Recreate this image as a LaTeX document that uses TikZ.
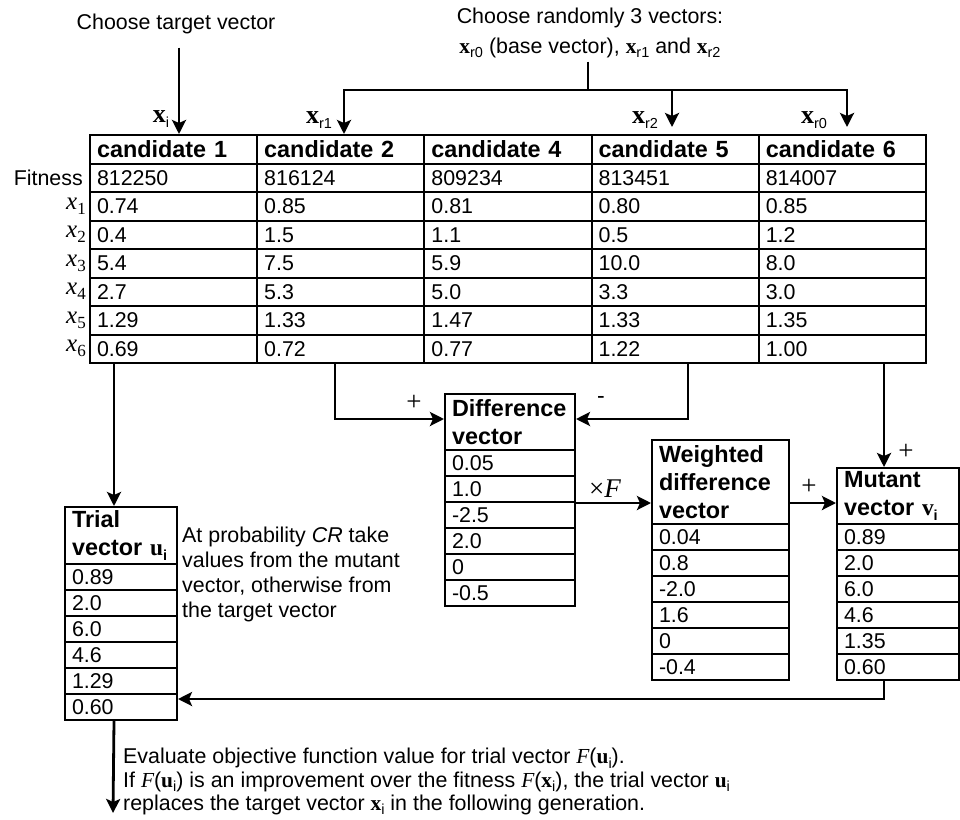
\documentclass[tikz,border=0pt]{standalone}
\usepackage{fontspec}
\setmainfont{Liberation Sans}
\newfontfamily\serif{Liberation Serif}
\usetikzlibrary{arrows.meta,calc}
\hyphenpenalty=10000
\exhyphenpenalty=10000

% bold serif vector letter and a small lowered index
\newcommand\bvec[1]{{\serif\bfseries #1}}
\newcommand\lowsub[1]{\raisebox{-0.2em}{\fontsize{14.5}{14.5}\selectfont #1}}
\newcommand\bodyfont{\fontsize{21.4}{25}\selectfont}
\newcommand\headfont{\fontsize{23.4}{28}\selectfont\bfseries}

\tikzset{
  every node/.style={font=\bodyfont},
  box/.style={draw, line width=2pt, anchor=north west, inner xsep=7pt, inner ysep=0pt, align=left},
  tcell/.style={box, text width=153.2pt, minimum height=28.5pt},
  hd/.style={font=\headfont},
  wire/.style={line width=2.8pt},
  arr/.style={wire, -{Stealth[length=14pt,width=14pt,inset=3pt]}},
  sym/.style={font=\fontsize{27}{27}\selectfont\serif, inner sep=1pt},
  xlab/.style={font=\fontsize{25}{25}\selectfont, anchor=east, inner sep=0pt},
  toplab/.style={font=\fontsize{26}{26}\selectfont},
}

\begin{document}
\begin{tikzpicture}[x=1pt,y=-1pt]
\fill[white] (0,0) rectangle (960,819);
\useasboundingbox (0,0) rectangle (960,819);

% population table
\foreach \hdr/\va/\vb/\vc/\vd/\ve/\vf/\vg [count=\i] in {
  candidate 1/812250/0.74/0.4/5.4/2.7/1.29/0.69,
  candidate 2/816124/0.85/1.5/7.5/5.3/1.33/0.72,
  candidate 4/809234/0.81/1.1/5.9/5.0/1.47/0.77,
  candidate 5/813451/0.80/0.5/10.0/3.3/1.33/1.22,
  candidate 6/814007/0.85/1.2/8.0/3.0/1.35/1.00}
{
  \pgfmathsetmacro\cx{89+167.2*(\i-1)}
  \node[tcell,hd] (h\i) at (\cx,134) {\hdr};
  \foreach \v [count=\k] in {\va,\vb,\vc,\vd,\ve,\vf,\vg}
    \node[tcell] (c\i-\k) at (\cx,{134+28.5*\k}) {\v};
}

% row labels
\node[xlab, font=\bodyfont] (lfit) at ([xshift=-6pt]c1-1.west) {Fitness};
\foreach \k in {1,...,6}{
  \pgfmathtruncatemacro\r{\k+1}
  \node[xlab] (lx\k) at ([xshift=-3pt]c1-\r.west)
    {{\serif\itshape x}\raisebox{-0.2em}{\fontsize{17}{17}\selectfont\serif\k}};
}

% choosing the vectors
\node (tv) at (176,24) {Choose target vector};
\node[align=center, font=\fontsize{21.4}{30}\selectfont] (rv) at (590,33)
  {Choose randomly 3 vectors:\\\bvec{x}\lowsub{r0} (base vector), \bvec{x}\lowsub{r1} and \bvec{x}\lowsub{r2}};

\coordinate (ti) at ([xshift=5.4pt]h1.north);
\draw[arr] ($(tv.south -| ti)+(0,10)$) -- (ti);

\coordinate (j) at (588,90);
\coordinate (r1t) at ([xshift=3.2pt]h2.north);
\coordinate (r2t) at ([xshift=-3.2pt,yshift=7pt]h4.north);
\coordinate (r0t) at ([xshift=4.6pt,yshift=7pt]h5.north);
\draw[wire] (rv.south -| j) -- (j);
\draw[arr] (j) -| (r1t);
\draw[arr] (j) -| (r2t);
\draw[arr] (j) -| (r0t);

\node[toplab] (lxi) at (161,119) {\bvec{x}\lowsub{i}};
\node[toplab] (lxr1) at (319,120) {\bvec{x}\lowsub{r1}};
\node[toplab] (lxr2) at (645,120) {\bvec{x}\lowsub{r2}};
\node[toplab] (lxr0) at (814,120) {\bvec{x}\lowsub{r0}};

% difference vector
\node[box, hd, text width=116pt, minimum height=56pt] (dh) at (444,393) {Difference\\vector};
\foreach \v [count=\k] in {0.05,1.0,-2.5,2.0,0,-0.5}
  \node[box, text width=116pt, minimum height=26pt] (d\k) at (444,{449+26*(\k-1)}) {\v};

% weighted difference vector
\node[box, hd, text width=123pt, minimum height=84pt] (wh) at (651,439) {Weighted\\difference\\vector};
\foreach \v [count=\k] in {0.04,0.8,-2.0,1.6,0,-0.4}
  \node[box, text width=123pt, minimum height=26pt] (w\k) at (651,{523+26*(\k-1)}) {\v};

% mutant vector
\node[box, hd, text width=108pt, minimum height=56pt] (mh) at (836,467) {Mutant\\vector \bvec{v}\lowsub{i}};
\foreach \v [count=\k] in {0.89,2.0,6.0,4.6,1.35,0.60}
  \node[box, text width=108pt, minimum height=26pt] (m\k) at (836,{523+26*(\k-1)}) {\v};

% trial vector
\node[box, hd, text width=98pt, minimum height=57pt] (th) at (64,506) {Trial\\vector \bvec{u}\lowsub{i}};
\foreach \v [count=\k] in {0.89,2.0,6.0,4.6,1.29,0.60}
  \node[box, text width=98pt, minimum height=26pt] (t\k) at (64,{563+26*(\k-1)}) {\v};

\node[anchor=north west, inner sep=0pt, align=left] (cr) at (182,527)
  {At probability \textit{CR} take\\values from the mutant\\vector, otherwise from\\the target vector};

% flow of the mutation
\coordinate (ta) at ([xshift=-7pt]th.north);
\draw[arr] (c1-7.south -| ta) -- (ta);

\draw[arr] ([xshift=-5.8pt]c2-7.south) |- ([yshift=3pt]dh.west);
\draw[arr] ([xshift=12.8pt]c4-7.south) |- ([yshift=3pt]dh.east);
\node[sym] (lp1) at (414,403) {+};
\node[sym, font=\fontsize{23}{23}\selectfont] (lm) at (601,400) {-};

\draw[arr] (d2.south east) -- (d2.south east -| wh.west);
\node[sym] (lf) at (605,489) {×\textit{F}};

\draw[arr] (wh.east |- d2.south) -- (mh.west |- d2.south);
\node[sym] (lp2) at (809,487) {+};

\coordinate (ma) at ([xshift=-14pt]mh.north);
\draw[arr] (c5-7.south -| ma) -- (ma);
\node[sym] (lp3) at (906,452) {+};

\draw[arr] (m6.south -| ma) |- ([yshift=8pt]t6.east);

\coordinate (out) at (113,813);
\draw[arr] (t6.south -| ta) -- (out);

\node[anchor=north west, inner sep=0pt, align=left, font=\fontsize{21.4}{23.5}\selectfont] (eval) at (123,748)
  {Evaluate objective function value for trial vector {\serif\itshape F}(\bvec{u}\lowsub{i}).\\
   If {\serif\itshape F}(\bvec{u}\lowsub{i}) is an improvement over the fitness {\serif\itshape F}(\bvec{x}\lowsub{i}), the trial vector \bvec{u}\lowsub{i}\\
   replaces the target vector \bvec{x}\lowsub{i} in the following generation.};
\end{tikzpicture}
\end{document}
